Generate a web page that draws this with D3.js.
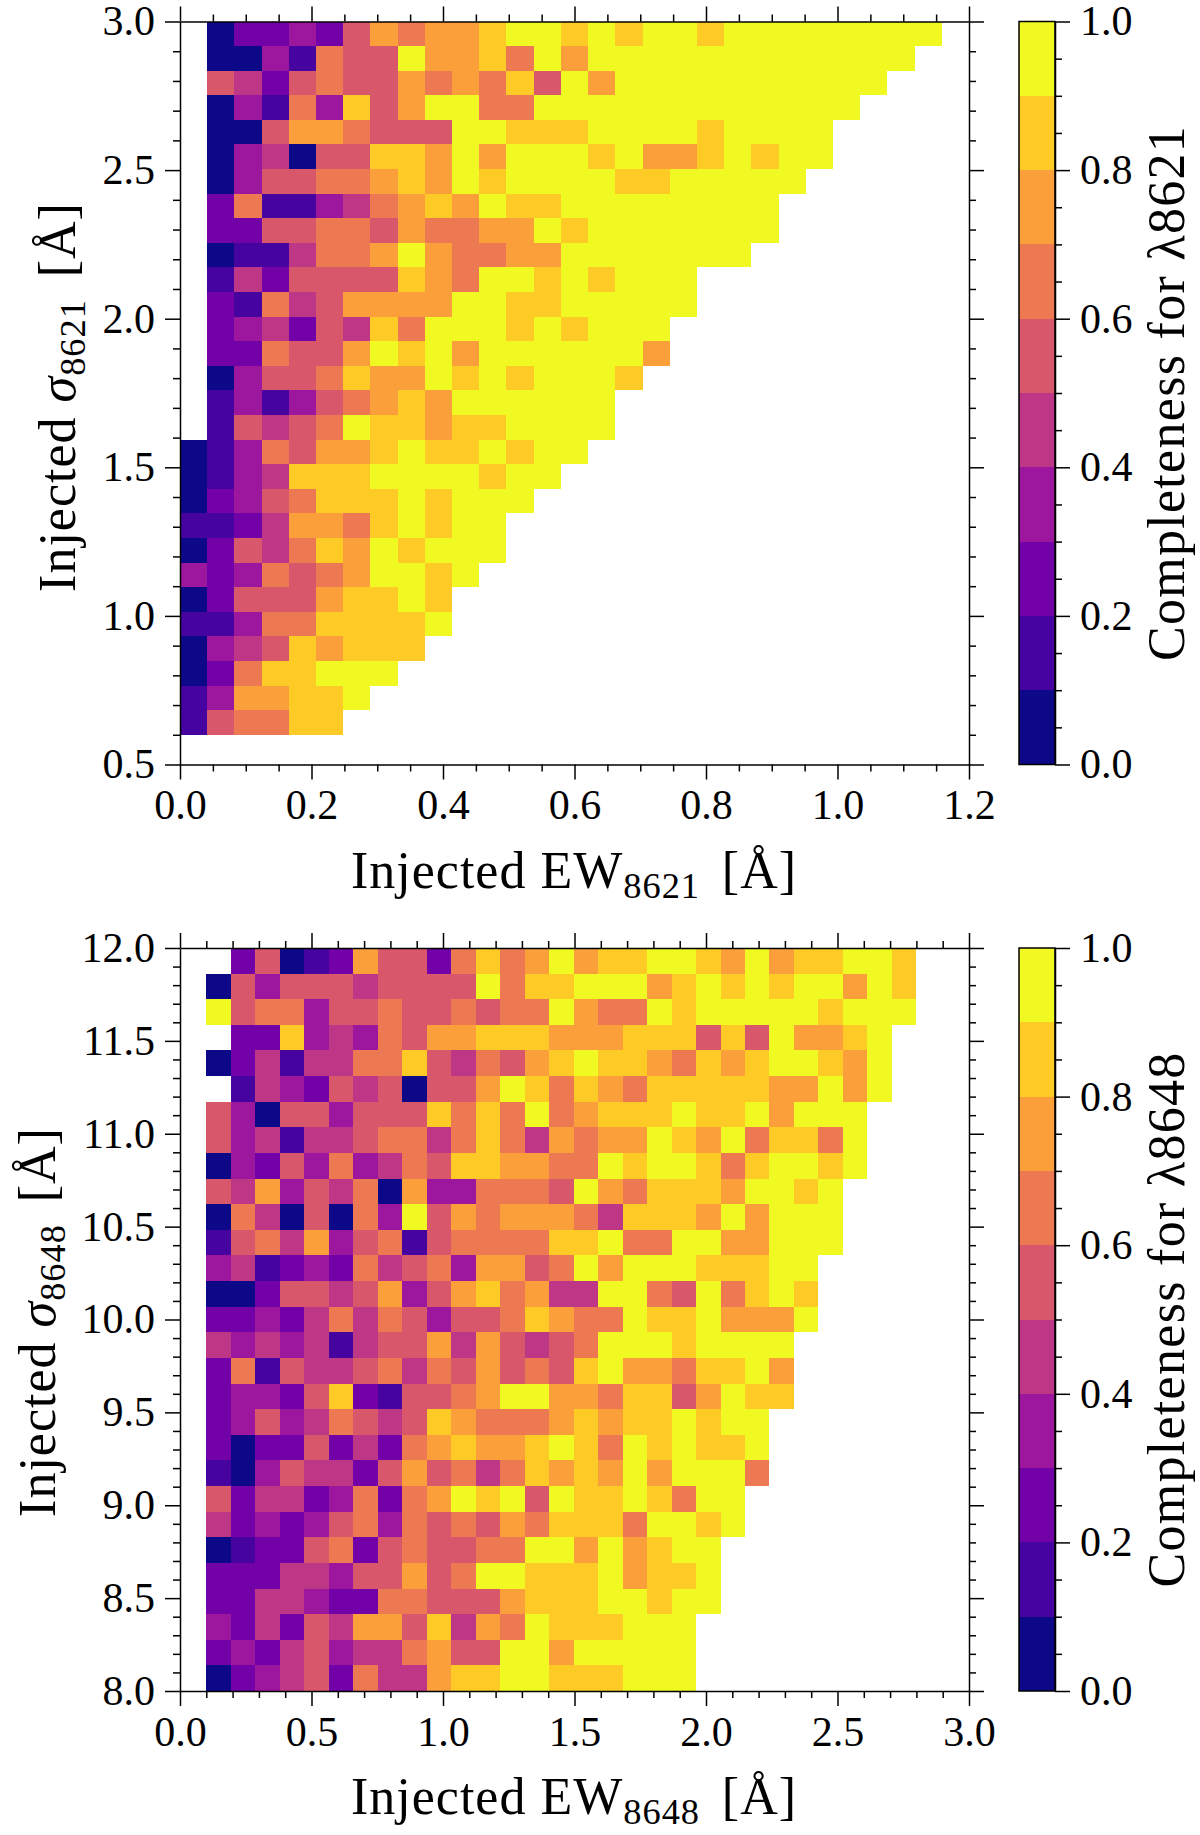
<!DOCTYPE html>
<html>
<head>
<meta charset="utf-8">
<script src="https://cdn.jsdelivr.net/npm/d3@7"></script>
<style>
  body { margin: 0; background: #fff; }
  text { font-family: "Liberation Serif", serif; fill: #000; }
</style>
</head>
<body>
<div id="chart"></div>
<script>
// completeness bin of each cell: 0 = 0.0-0.1 ... 9 = 0.9-1.0, '.' = no data. top row first.
var grid8621 = [
  '.022325767 7899898998 99999999.',
  '.003165597 7869799999 9999999..',
  '.542565576 7685979999 999999...',
  '.031638579 9669999999 99999....',
  '.005776555 9988899998 9999.....',
  '.034055887 9799989778 9899.....',
  '.035566787 9899998899 999......',
  '.261134678 7988999999 99.......',
  '.225566576 6779899999 99.......',
  '.011466797 6677999999 9........',
  '.142555587 699898999. .........',
  '.216457777 998899999. .........',
  '.234254869 99898999.. .........',
  '.226557989 79999997.. .........',
  '.035568779 8989998... .........',
  '.131356787 999999.... .........',
  '.154569887 889999.... .........',
  '0136577898 89899..... .........',
  '0134888999 9899...... .........',
  '0235688898 999....... .........',
  '1124776898 99........ .........',
  '0254687989 99........ .........',
  '3236567998 9......... .........',
  '0255578898 .......... .........',
  '1136688889 .......... .........',
  '034587888. .......... .........',
  '02688999.. .......... .........',
  '1377889... .......... .........',
  '156688.... .......... .........'
];

var grid8648 = [
  '.2501275526 8679788998 79788998',
  '05355545555 9688999789 89899798',
  '95663556556 5669766989 99998999',
  '.2283436577 8887778885 8597789.',
  '02414466854 6578988768 7899879.',
  '.1432545055 7986876888 8877979.',
  '53055355586 8696788898 897999..',
  '53414456646 8647677987 968869..',
  '03253634658 8776698998 689989..',
  '54735460733 6665976888 79989...',
  '06405063957 6777648887 97999...',
  '15647356156 6668896699 77999...',
  '34123264563 7756979998 8899....',
  '00255457357 8674499659 6898....',
  '22324646535 5687669889 7779....',
  '43434145574 7545699989 999.....',
  '26154456465 7565897768 897.....',
  '23325821556 7997768857 988.....',
  '23534654587 6667878898 99......',
  '20225242678 7789869898 89......',
  '10354425756 4687879799 96......',
  '52442362679 8959889869 9.......',
  '42323563656 5768886998 9.......',
  '01225625655 6699797899 ........',
  '22244355756 9988897889 ........',
  '22443226655 5788899899 ........',
  '32425477584 769888999. ........',
  '23245344675 599799999. ........',
  '02345264478 899888999. ........'
];

var xTicks8621 = [0.0, 0.2, 0.4, 0.6, 0.8, 1.0, 1.2];
var yTicks8621 = [0.5, 1.0, 1.5, 2.0, 2.5, 3.0];
var xTicks8648 = [0.0, 0.5, 1.0, 1.5, 2.0, 2.5, 3.0];
var yTicks8648 = [8.0, 8.5, 9.0, 9.5, 10.0, 10.5, 11.0, 11.5, 12.0];
var cbarTicks = [0.0, 0.2, 0.4, 0.6, 0.8, 1.0];

// plasma を10段に切ったもの
var levelColors = ['#0d0887', '#46039f', '#7201a8', '#9c179e', '#bd3786',
  '#d8576b', '#ed7953', '#fb9f3a', '#fdca26', '#f0f921'];

var width = 1200;
var height = 1835;
var labelSize = 52;

var svg = d3.select('#chart').append('svg')
  .attr('width', width)
  .attr('height', height)
  .style('display', 'block');

var fmt = d3.format('.1f');
var colorScale = d3.scaleQuantize().domain([0, 1]).range(levelColors);

function parseGrid(grid) {
  var cells = [];
  grid.forEach(function(row, r) {
    row.replace(/ /g, '').split('').forEach(function(ch, c) {
      if (ch !== '.') {
        cells.push({ row: r, col: c, value: (+ch + 0.5) / 10 });
      }
    });
  });
  return cells;
}

// 目盛りの間引き。majorの間をn等分したminorを返す
function minorTicks(major, n) {
  var out = [];
  d3.pairs(major).forEach(function(p) {
    d3.range(1, n).forEach(function(i) {
      out.push(p[0] + (p[1] - p[0]) * i / n);
    });
  });
  return out;
}

function drawAxis(g, axisFn, scale, major, minor, translate, showLabels) {
  var layer = g.append('g').attr('transform', translate);
  layer.append('g').call(axisFn(scale).tickValues(minor).tickSize(7).tickSizeOuter(0).tickFormat(''))
    .select('.domain').remove();
  var gMajor = layer.append('g').call(axisFn(scale).tickValues(major).tickSize(15).tickSizeOuter(0)
    .tickPadding(10).tickFormat(showLabels ? fmt : ''));
  layer.selectAll('path,line').attr('stroke', '#000').attr('stroke-width', 1.5);
  gMajor.selectAll('text').style('font-size', '42px').style('font-family', '"Liberation Serif", serif');
}

function addLabel(sel, parts, size) {
  sel.style('font-size', size + 'px').style('letter-spacing', '1px');
  parts.forEach(function(p) {
    var t = sel.append('tspan').text(p.text);
    if (p.italic) {
      t.style('font-style', 'italic');
    }
    if (p.sub) {
      t.attr('dy', size * 0.2).style('font-size', (size * 0.7) + 'px');
    } else if (p.afterSub) {
      t.attr('dy', -size * 0.2).attr('dx', size * 0.15);
    }
  });
}

function drawPanel(p) {
  var g = svg.append('g');
  var x = d3.scaleLinear().domain(p.xDomain).range([180, 969]);
  var y = d3.scaleLinear().domain(p.yDomain).range([p.bottom, p.top]);

  var cols = d3.scaleBand().domain(d3.range(29)).range([x(p.xBins[0]), x(p.xBins[1])]);
  var rows = d3.scaleBand().domain(d3.range(29)).range([y(p.yBins[1]), y(p.yBins[0])]);

  g.selectAll('rect.cell')
    .data(parseGrid(p.grid))
    .enter()
    .append('rect')
    .attr('class', 'cell')
    .attr('x', function(d) { return cols(d.col); })
    .attr('y', function(d) { return rows(d.row); })
    .attr('width', cols.bandwidth())
    .attr('height', rows.bandwidth())
    .attr('shape-rendering', 'crispEdges')
    .attr('fill', function(d) { return colorScale(d.value); });

  var xMinor = minorTicks(p.xTicks, p.xMinor);
  var yMinor = minorTicks(p.yTicks, 5);
  drawAxis(g, d3.axisBottom, x, p.xTicks, xMinor, 'translate(0,' + p.bottom + ')', true);
  drawAxis(g, d3.axisTop, x, p.xTicks, xMinor, 'translate(0,' + p.top + ')', false);
  drawAxis(g, d3.axisLeft, y, p.yTicks, yMinor, 'translate(180,0)', true);
  drawAxis(g, d3.axisRight, y, p.yTicks, yMinor, 'translate(969,0)', false);

  g.append('text')
    .attr('x', 574).attr('y', p.bottom + 123)
    .attr('text-anchor', 'middle')
    .call(addLabel, p.xLabel, labelSize);

  g.append('text')
    .attr('transform', 'translate(' + p.yLabelX + ',' + p.yLabelY + ') rotate(-90)')
    .attr('text-anchor', 'middle')
    .call(addLabel, p.yLabel, labelSize);

  // カラーバー
  var c = d3.scaleLinear().domain([0, 1]).range([p.bottom, p.top]);
  g.selectAll('rect.level')
    .data(levelColors)
    .enter()
    .append('rect')
    .attr('class', 'level')
    .attr('x', 1019)
    .attr('y', function(d, i) { return c((i + 1) / 10); })
    .attr('width', 36)
    .attr('height', function(d, i) { return c(i / 10) - c((i + 1) / 10); })
    .attr('shape-rendering', 'crispEdges')
    .attr('fill', function(d) { return d; });
  g.append('rect')
    .attr('x', 1019).attr('y', p.top).attr('width', 36).attr('height', p.bottom - p.top)
    .attr('fill', 'none').attr('stroke', '#000').attr('stroke-width', 1.5);
  drawAxis(g, d3.axisRight, c, cbarTicks, minorTicks(cbarTicks, 4), 'translate(1055,0)', true);

  g.append('text')
    .attr('transform', 'translate(1184,' + (p.top + p.bottom) / 2 + ') rotate(-90)')
    .attr('text-anchor', 'middle')
    .style('font-size', labelSize + 'px')
    .style('letter-spacing', '1.3px')
    .text(p.cbarLabel);
}

drawPanel({
  grid: grid8621,
  xDomain: [0, 1.2], yDomain: [0.5, 3.0],
  xBins: [0, 1.2], yBins: [0.6, 3.0],
  xTicks: xTicks8621, yTicks: yTicks8621, xMinor: 4,
  top: 21.5, bottom: 764.5,
  xLabel: [{ text: 'Injected EW' }, { text: '8621', sub: true }, { text: ' [Å]', afterSub: true }],
  yLabel: [{ text: 'Injected ' }, { text: 'σ', italic: true }, { text: '8621', sub: true }, { text: ' [Å]', afterSub: true }],
  yLabelX: 75, yLabelY: 397,
  cbarLabel: 'Completeness for λ8621'
});

drawPanel({
  grid: grid8648,
  xDomain: [0, 3.0], yDomain: [8, 12],
  xBins: [0.1, 2.8], yBins: [8, 12],
  xTicks: xTicks8648, yTicks: yTicks8648, xMinor: 5,
  top: 948, bottom: 1691,
  xLabel: [{ text: 'Injected EW' }, { text: '8648', sub: true }, { text: ' [Å]', afterSub: true }],
  yLabel: [{ text: 'Injected ' }, { text: 'σ', italic: true }, { text: '8648', sub: true }, { text: ' [Å]', afterSub: true }],
  yLabelX: 55, yLabelY: 1322,
  cbarLabel: 'Completeness for λ8648'
});
</script>
</body>
</html>
